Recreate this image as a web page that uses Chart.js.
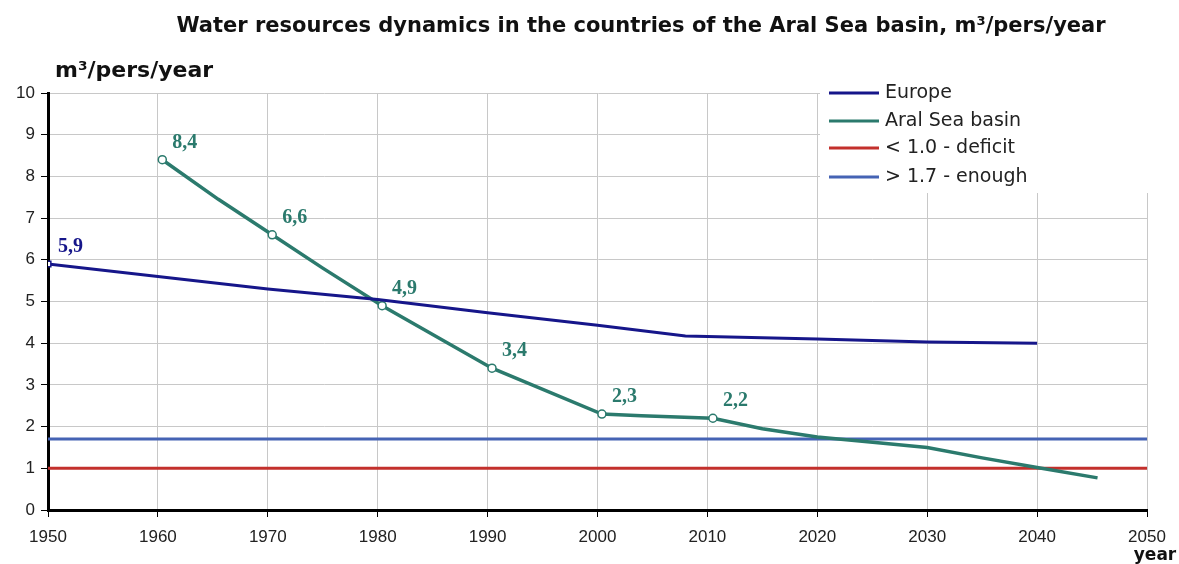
<!DOCTYPE html>
<html>
<head>
<meta charset="utf-8">
<script src="https://cdn.jsdelivr.net/npm/chart.js@4"></script>
<style>
  html, body { margin: 0; padding: 0; background: #fff; }
  #wrap { width: 1179px; height: 564px; }
</style>
</head>
<body>
<div id="wrap"><canvas id="chart" width="1179" height="564"></canvas></div>
<script>
'use strict';

// Europe, m3/pers/year
const europeYears = [1950, 1960, 1970, 1980, 1990, 2000, 2008, 2020, 2030, 2040];
const europeValues = [5.9, 5.6, 5.3, 5.05, 4.73, 4.43, 4.17, 4.1, 4.03, 4.0];
const europeLabels = ['5,9', '', '', '', '', '', '', '', '', ''];

// Aral Sea basin
const aralYears = [1960.4, 1965.5, 1970.4, 1975, 1980.4, 1990.4, 2000.4, 2004, 2010.5, 2015, 2020, 2026, 2030, 2035, 2040, 2045.5];
const aralValues = [8.4, 7.45, 6.6, 5.8, 4.9, 3.4, 2.3, 2.26, 2.2, 1.95, 1.75, 1.6, 1.5, 1.25, 1.02, 0.77];
const aralLabels = ['8,4', '', '6,6', '', '4,9', '3,4', '2,3', '', '2,2', '', '', '', '', '', '', ''];

// пороговые линии
const thresholdYears = [1950, 2050];
const deficitValues = [1.0, 1.0];
const enoughValues = [1.7, 1.7];

const xTicks = [1950, 1960, 1970, 1980, 1990, 2000, 2010, 2020, 2030, 2040, 2050];

const seriesNames = ['Europe', 'Aral Sea basin', '< 1.0 - deficit', '> 1.7 - enough'];
const seriesColors = ['#16168a', '#2b7a6d', '#c3302c', '#4563b4'];

function points(xs, ys) {
    return xs.map((x, i) => ({ x: x, y: ys[i] }));
}

// подписи значений возле маркеров
const valueLabels = {
    id: 'valueLabels',
    afterDatasetsDraw(chart) {
        const ctx = chart.ctx;
        ctx.save();
        ctx.font = 'bold 20px "Liberation Serif", serif';
        ctx.textBaseline = 'middle';
        ctx.textAlign = 'left';
        chart.data.datasets.forEach((ds, i) => {
            if (!ds.valueLabels) return;
            const meta = chart.getDatasetMeta(i);
            ctx.fillStyle = ds.borderColor;
            meta.data.forEach((pt, j) => {
                const text = ds.valueLabels[j];
                if (text) ctx.fillText(text, pt.x + 10, pt.y - 17);
            });
        });
        ctx.restore();
    }
};

// заголовок, подписи осей и легенда внутри области графика
const decorations = {
    id: 'decorations',
    beforeDatasetsDraw(chart) {
        const ctx = chart.ctx;
        ctx.save();
        ctx.fillStyle = '#fff';
        ctx.fillRect(820, 78, 340, 115);
        ctx.restore();
    },
    afterDraw(chart) {
        const ctx = chart.ctx;
        ctx.save();
        ctx.fillStyle = '#111';
        ctx.textBaseline = 'middle';

        ctx.textAlign = 'center';
        ctx.font = 'bold 21px "DejaVu Sans", sans-serif';
        ctx.fillText('Water resources dynamics in the countries of the Aral Sea basin, m³/pers/year', 641, 27);

        ctx.textAlign = 'left';
        ctx.font = 'bold 22px "DejaVu Sans", sans-serif';
        ctx.fillText('m³/pers/year', 55, 71);

        ctx.textAlign = 'center';
        ctx.font = 'bold 17px "DejaVu Sans", sans-serif';
        ctx.fillText('year', 1155, 556);

        // легенда
        ctx.textAlign = 'left';
        ctx.font = '19px "DejaVu Sans", sans-serif';
        const rows = [93, 121, 148, 177];
        chart.data.datasets.forEach((ds, i) => {
            ctx.strokeStyle = ds.borderColor;
            ctx.lineWidth = 3;
            ctx.beginPath();
            ctx.moveTo(829, rows[i]);
            ctx.lineTo(879, rows[i]);
            ctx.stroke();
            ctx.fillStyle = '#222';
            ctx.fillText(ds.label, 885, rows[i]);
        });
        ctx.restore();
    }
};

const ctx = document.getElementById('chart').getContext('2d');
new Chart(ctx, {
    type: 'line',
    data: {
        datasets: [
            {
                label: seriesNames[0],
                data: points(europeYears, europeValues),
                valueLabels: europeLabels,
                borderColor: seriesColors[0],
                borderWidth: 3,
                pointStyle: 'rect',
                pointRadius: europeLabels.map((t) => (t ? 4 : 0)),
                pointBackgroundColor: '#fff',
                pointBorderColor: seriesColors[0],
                pointBorderWidth: 1.5,
                tension: 0,
            },
            {
                label: seriesNames[1],
                data: points(aralYears, aralValues),
                valueLabels: aralLabels,
                borderColor: seriesColors[1],
                borderWidth: 3.5,
                pointStyle: 'circle',
                pointRadius: aralLabels.map((t) => (t ? 4 : 0)),
                pointBackgroundColor: '#fff',
                pointBorderColor: seriesColors[1],
                pointBorderWidth: 1.5,
                tension: 0,
            },
            {
                label: seriesNames[2],
                data: points(thresholdYears, deficitValues),
                borderColor: seriesColors[2],
                borderWidth: 3,
                pointRadius: 0,
            },
            {
                label: seriesNames[3],
                data: points(thresholdYears, enoughValues),
                borderColor: seriesColors[3],
                borderWidth: 3,
                pointRadius: 0,
            },
        ],
    },
    options: {
        responsive: false,
        animation: false,
        devicePixelRatio: 1,
        layout: { padding: { top: 93, right: 32, left: 0, bottom: 0 } },
        plugins: {
            legend: { display: false },
            title: { display: false },
            tooltip: { enabled: false },
        },
        scales: {
            x: {
                type: 'linear',
                min: 1950,
                max: 2050,
                afterBuildTicks: (scale) => {
                    scale.ticks = xTicks.map((v) => ({ value: v }));
                },
                afterFit: (scale) => {
                    scale.height = 54;
                },
                ticks: {
                    callback: (v) => String(v),
                    color: '#222',
                    font: { family: '"Liberation Sans", Arial, sans-serif', size: 17 },
                    padding: 10,
                    maxRotation: 0,
                },
                grid: { color: '#c8c8c8', lineWidth: 1, tickColor: '#000', tickLength: 7 },
                border: { color: '#000', width: 3 },
            },
            y: {
                min: 0,
                max: 10,
                afterFit: (scale) => {
                    scale.width = 48;
                },
                ticks: {
                    stepSize: 1,
                    color: '#222',
                    font: { family: '"Liberation Sans", Arial, sans-serif', size: 17 },
                    padding: 6,
                },
                grid: { color: '#c8c8c8', lineWidth: 1, tickColor: '#000', tickLength: 7 },
                border: { color: '#000', width: 3 },
            },
        },
    },
    plugins: [valueLabels, decorations],
});
</script>
</body>
</html>
